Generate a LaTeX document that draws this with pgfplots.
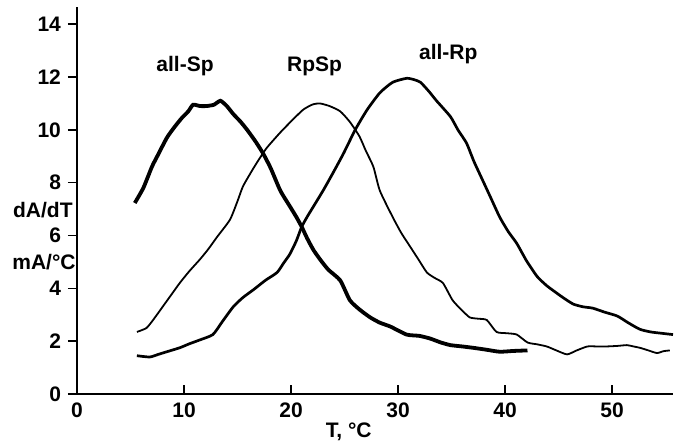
\documentclass[border=0pt]{standalone}
\usepackage{pgfplots}
\pgfplotsset{compat=1.18}
\usepackage{fontspec}
\setmainfont{Liberation Sans}

\pgfplotsset{
  basebox/.style={
    scale only axis,
    width=298pt, height=193.5pt,
    xmin=0, xmax=55.7, ymin=0, ymax=14.65,
    major tick length=4.5pt,
    tick style={line width=0.8pt, black},
    tick label style={font=\fontsize{10.5}{12}\selectfont\bfseries},
    /pgf/number format/assume math mode=true,
    clip=false,
  }
}

\begin{document}
\begin{tikzpicture}
% x axis with inward ticks
\begin{axis}[
    basebox,
    axis x line=bottom, axis y line=none,
    axis line style={-, line width=0.9pt},
    x axis line style={-},
    xtick={0,10,20,30,40,50},
    tick align=inside,
    xticklabel style={yshift=-1pt},
]
\end{axis}
\begin{axis}[
    basebox,
    axis x line=none, axis y line=left,
    axis line style={-, line width=0.9pt},
    y axis line style={-},
    ytick={0,2,4,6,8,10,12,14},
    tick align=outside,
]
% all-Sp (thick)
\addplot[black, line width=1.9pt, smooth, tension=0.35] coordinates {
(5.4,7.23) (6.2,7.8) (7.0,8.6) (7.5,9.0) (8.4,9.7) (9.1,10.1) (9.8,10.45)
(10.4,10.7) (10.85,10.95) (11.5,10.9) (12.1,10.9) (12.8,10.95) (13.4,11.1)
(14.0,10.9) (14.6,10.6) (15.3,10.3) (15.9,10.0) (16.7,9.55) (17.4,9.1)
(18.1,8.55) (19.0,7.7) (19.9,7.1) (20.5,6.7) (21.0,6.33)
(21.5,5.9) (22.1,5.45) (22.8,5.05) (23.5,4.7) (24.6,4.3)
(25.5,3.55) (26.4,3.2) (27.4,2.9) (28.3,2.7) (29.3,2.55) (30.8,2.25)
(32.0,2.2) (33.0,2.1) (34.0,1.95) (34.9,1.85) (36.0,1.8) (37.0,1.75)
(38.2,1.68) (39.5,1.6) (40.8,1.63) (42.1,1.65)
};
% RpSp (thin)
\addplot[black, line width=0.9pt, smooth, tension=0.35] coordinates {
(5.6,2.35) (6.5,2.5) (7.2,2.85) (8.0,3.3) (8.8,3.75) (9.6,4.2) (10.5,4.65)
(11.5,5.1) (12.3,5.5) (13.1,5.95) (14.3,6.6) (15.0,7.3) (15.5,7.85)
(16.2,8.35) (16.8,8.75) (17.7,9.3) (19.0,9.9) (20.2,10.4)
(21.1,10.75) (21.7,10.9) (22.1,10.97) (22.7,11.0) (23.6,10.9) (24.6,10.7)
(25.5,10.3) (26.4,9.75) (27.0,9.2) (27.7,8.6) (28.3,7.7) (29.5,6.7)
(30.3,6.1) (31.1,5.6) (31.9,5.1) (32.7,4.6) (33.4,4.4) (34.2,4.2)
(35.1,3.55) (35.9,3.2) (36.7,2.9) (37.5,2.85) (38.3,2.8) (39.2,2.35)
(40.2,2.3) (41.1,2.25) (42.1,1.95) (43.0,1.88) (43.9,1.8) (44.8,1.65)
(45.8,1.5) (46.7,1.65) (47.7,1.8) (48.6,1.8) (49.5,1.8) (50.5,1.82)
(51.4,1.85) (52.0,1.8) (52.6,1.75) (53.4,1.65) (54.2,1.55) (54.8,1.62)
(55.4,1.65)
};
% all-Rp (medium)
\addplot[black, line width=1.35pt, smooth, tension=0.35] coordinates {
(5.6,1.45) (6.8,1.4) (7.6,1.5) (8.4,1.6) (9.6,1.75) (10.5,1.9) (11.5,2.05)
(12.7,2.25) (13.6,2.75) (14.6,3.3) (15.5,3.65) (16.5,3.95) (17.6,4.3)
(18.7,4.6) (19.3,4.95) (19.9,5.3) (20.5,5.8) (21.0,6.33) (21.5,6.7)
(22.1,7.1) (23.0,7.7) (23.9,8.35) (24.9,9.1) (26.0,10.0) (27.1,10.75)
(28.3,11.4) (29.5,11.8) (30.8,11.95) (31.5,11.9) (32.1,11.8) (32.9,11.45)
(33.6,11.1) (34.9,10.5) (35.6,10.0) (36.4,9.5) (37.1,8.8) (37.9,8.1)
(38.7,7.4) (39.5,6.7) (40.3,6.15) (41.1,5.7) (42.0,5.05) (43.0,4.45)
(43.9,4.1) (44.9,3.8) (45.6,3.6) (46.4,3.4) (47.3,3.3) (48.2,3.25)
(49.3,3.1) (50.5,2.95) (51.5,2.7) (52.6,2.45) (53.6,2.35) (54.6,2.3)
(55.7,2.25)
};
\node[font=\fontsize{10.5}{12}\selectfont\bfseries] at (axis cs:10.1,12.4) {all-Sp};
\node[font=\fontsize{10.5}{12}\selectfont\bfseries] at (axis cs:22.2,12.4) {RpSp};
\node[font=\fontsize{10.5}{12}\selectfont\bfseries] at (axis cs:34.7,12.85) {all-Rp};
\node[anchor=east, inner sep=0pt, font=\fontsize{10.5}{12}\selectfont\bfseries] at ([xshift=-2pt]axis cs:0,6.97) {dA/dT};
\node[anchor=east, inner sep=0pt, font=\fontsize{10.5}{12}\selectfont\bfseries] at ([xshift=-0.5pt]axis cs:0,5.0) {mA/°C};
\node[font=\fontsize{10.5}{12}\selectfont\bfseries] at (axis cs:25.4,-1.44) {T, °C};
\end{axis}
\path (current axis.south west) ++(-38.5pt,-24.5pt) coordinate (bbA);
\path (current axis.north east) ++(2.5pt,3.5pt) coordinate (bbB);
\pgfresetboundingbox
\path[use as bounding box] (bbA) rectangle (bbB);
\end{tikzpicture}
\end{document}
